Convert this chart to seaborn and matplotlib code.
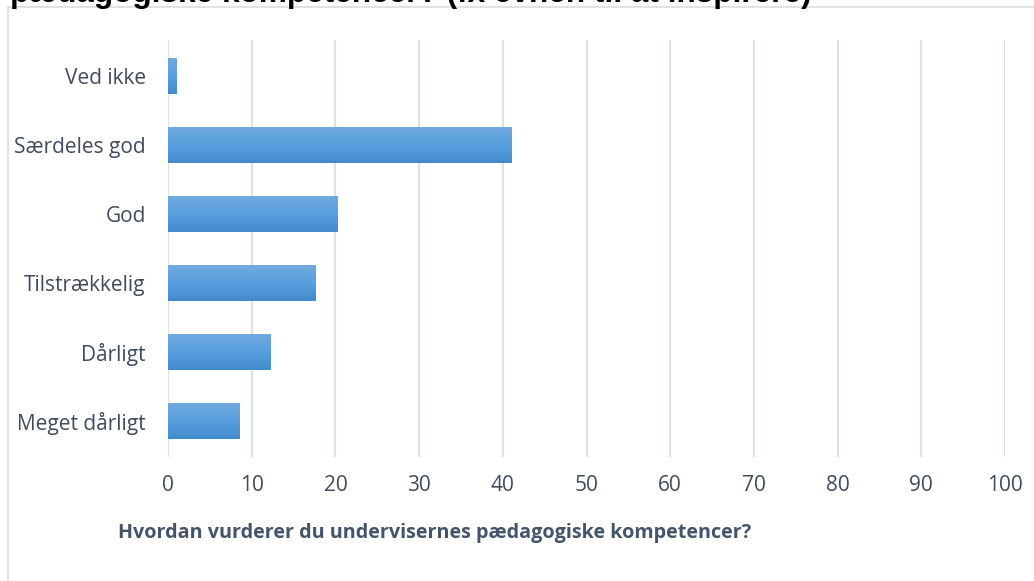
import numpy as np
import pandas as pd
import seaborn as sns
import matplotlib.pyplot as plt
from matplotlib.patches import Rectangle
from matplotlib.colors import LinearSegmentedColormap

# data
categories = ['Ved ikke', 'Særdeles god', 'God', 'Tilstrækkelig', 'Dårligt', 'Meget dårligt']
values = [1.0, 41.0, 20.3, 17.6, 12.3, 8.5]
xticks = [0, 10, 20, 30, 40, 50, 60, 70, 80, 90, 100]
title = 'pædagogiske kompetencer? (fx evnen til at inspirere)'
xlabel = 'Hvordan vurderer du undervisernes pædagogiske kompetencer?'

df = pd.DataFrame({'svar': categories, 'pct': values})

sns.set_style('white')
plt.rcParams['font.family'] = ['Open Sans', 'DejaVu Sans']

fig = plt.figure(figsize=(10.34, 5.81), dpi=100)
ax = fig.add_axes([168 / 1034, 1 - 457 / 581, (1005 - 168) / 1034, (457 - 40) / 581])

sns.barplot(data=df, x='pct', y='svar', order=categories, color='#5B9BD5',
            width=0.52, ax=ax, zorder=3)

# gradient fill on each bar
grad = LinearSegmentedColormap.from_list('g', ['#72A9DE', '#579FDF', '#438ACA'])
img = np.linspace(0, 1, 100).reshape(-1, 1)
for p in ax.patches:
    x0, y0 = p.get_x(), p.get_y()
    w, h = p.get_width(), p.get_height()
    im = ax.imshow(img, cmap=grad, aspect='auto', zorder=4,
                   extent=[x0, x0 + w, y0 + h, y0], origin='upper')
    im.set_clip_path(p)
    p.set_facecolor('none')
    p.set_edgecolor('none')

ax.set_xlim(0, 100)
ax.set_ylim(5.52, -0.52)
ax.set_xticks(xticks)
ax.set_xticklabels([str(t) for t in xticks])
ax.grid(axis='x', color='#DDE2E8', linewidth=1.6, zorder=0)
for s in ax.spines.values():
    s.set_visible(False)
ax.tick_params(axis='both', length=0, labelsize=15, colors='#404B5C')
ax.tick_params(axis='x', pad=13)
ax.tick_params(axis='y', pad=16)
ax.set_ylabel('')
ax.set_xlabel(xlabel, fontsize=14.2, fontweight='bold', color='#44546A')
ax.xaxis.set_label_coords(-0.0597, -0.182)
ax.xaxis.label.set_horizontalalignment('left')
ax.xaxis.label.set_verticalalignment('center')

# chart frame and clipped title
fig.add_artist(Rectangle((8 / 1034, -0.05), 1.1, 1 - 7 / 581 + 0.05,
                         transform=fig.transFigure, fill=False,
                         edgecolor='#D9DEE4', linewidth=1.2))
fig.text(10 / 1034, 1 - 2 / 581, title, fontsize=22.7, fontweight='bold',
         family='Liberation Sans', va='baseline', ha='left', color='black')

fig.savefig('out.png', dpi=100)
